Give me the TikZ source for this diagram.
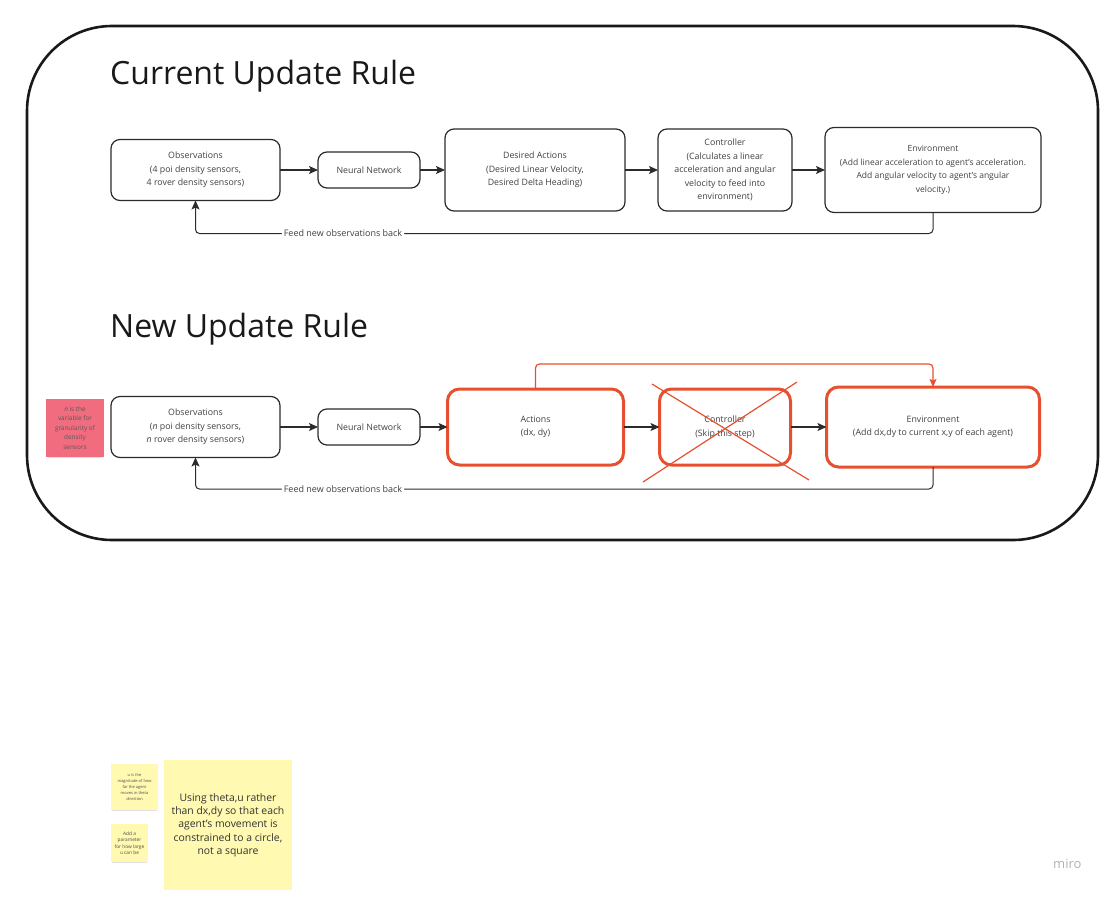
\documentclass[tikz,border=0pt]{standalone}
\usepackage{fontspec}
\setmainfont{Open Sans}
\usetikzlibrary{positioning,arrows.meta,shadows}

\definecolor{miroRed}{HTML}{E6502E}
\definecolor{stickyPink}{HTML}{F16C7F}
\definecolor{stickyYellow}{HTML}{FFF9B1}
\definecolor{lineGray}{HTML}{2B2B2B}

\tikzset{
  stage/.style = {draw = lineGray, rectangle, rounded corners = 9pt, line width = 1.2pt, align = center,
                  inner sep = 0pt, outer sep = 0pt, font = \fontsize{8.8}{13.5}\selectfont, text = black!75},
  skipped/.style = {stage, draw = miroRed, line width = 3pt, rounded corners = 12pt},
  flow/.style = {draw = lineGray, line width = 1.3pt, -{Stealth[length = 9pt, width = 8pt, inset = 2pt]}},
  loopback/.style = {flow, line width = 1pt, rounded corners = 4pt},
  fblabel/.style = {fill = white, inner sep = 2pt, font = \fontsize{9}{11}\selectfont, text = black!75},
  sticky/.style = {rectangle, inner sep = 0pt, align = center, text = black!70,
                   drop shadow = {shadow xshift = 0pt, shadow yshift = -2.5pt, shadow scale = 0.94, opacity = 0.12, fill = black}},
  heading/.style = {anchor = west, inner sep = 0pt, font = \fontsize{32}{36}\selectfont, text = black!90}
}

\begin{document}
\begin{tikzpicture}[x = 1pt, y = -1pt]
    \useasboundingbox (0,0) rectangle (1115,896);

    % frame round both rules
    \draw [line width = 2.6pt, rounded corners = 85pt, draw = black!90] (27,26) rectangle (1098,540);

    % current update rule
    \node [heading] (title1) at (110,76) {Current Update Rule};

    \node [stage, minimum width = 169pt, minimum height = 61pt] (obs1) at (195.5,170) {Observations\\(4 poi density sensors,\\4 rover density sensors)};
    \node [stage, minimum width = 102pt, minimum height = 36pt, right = 38pt of obs1] (nn1) {Neural Network};
    \node [stage, minimum width = 180pt, minimum height = 82pt, right = 25pt of nn1] (act1) {Desired Actions\\(Desired Linear Velocity,\\Desired Delta Heading)};
    \node [stage, minimum width = 134pt, minimum height = 82pt, right = 33pt of act1] (ctrl1) {Controller\\(Calculates a linear\\acceleration and angular\\velocity to feed into\\environment)};
    \node [stage, minimum width = 216pt, minimum height = 85pt, right = 33pt of ctrl1, font = \fontsize{8.5}{13.5}\selectfont] (env1) {Environment\\(Add linear acceleration to agent's acceleration.\\Add angular velocity to agent's angular\\velocity.)};

    \draw [flow] (obs1) -- (nn1);
    \draw [flow] (nn1) -- (act1);
    \draw [flow] (act1) -- (ctrl1);
    \draw [flow] (ctrl1) -- (env1);
    \draw [loopback] (env1.south) -- ++(0,21) -| node [fblabel, pos = 0.4] (fb1) {Feed new observations back} (obs1.south);

    % new update rule
    \node [heading] (title2) at (110,329) {New Update Rule};

    \node [sticky, fill = stickyPink, minimum width = 58pt, minimum height = 58pt, font = \fontsize{6.4}{9.5}\selectfont, text = black!65] (noteN) at (75,428) {\textit{n} is the\\variable for\\granularity of\\density\\sensors};

    \node [stage, minimum width = 169pt, minimum height = 61pt] (obs2) at (195.5,427) {Observations\\(\textit{n} poi density sensors,\\\textit{n} rover density sensors)};
    \node [stage, minimum width = 102pt, minimum height = 36pt, right = 38pt of obs2] (nn2) {Neural Network};
    \node [skipped, minimum width = 176pt, minimum height = 76pt, right = 27.5pt of nn2] (act2) {Actions\\(dx, dy)};
    \node [skipped, minimum width = 131pt, minimum height = 76pt, right = 36pt of act2] (ctrl2) {Controller\\(Skip this step)};
    \node [skipped, minimum width = 213pt, minimum height = 80pt, right = 36pt of ctrl2] (env2) {Environment\\(Add dx,dy to current x,y of each agent)};

    \draw [miroRed, line width = 1.2pt] ([shift = {(-73,-43)}]ctrl2.center) -- ([shift = {(84,53)}]ctrl2.center);
    \draw [miroRed, line width = 1.2pt] ([shift = {(72,-45)}]ctrl2.center) -- ([shift = {(-82,55)}]ctrl2.center);

    \draw [flow] (obs2) -- (nn2);
    \draw [flow] (nn2) -- (act2);
    \draw [flow] (act2) -- (ctrl2);
    \draw [flow] (ctrl2) -- (env2);
    \draw [miroRed, line width = 1.2pt, rounded corners = 4pt, -{Stealth[length = 8pt, width = 7pt, inset = 1.5pt]}] (act2.north) -- ++(0,-25) -| (env2.north);
    \draw [loopback] (env2.south) -- ++(0,22) -| node [fblabel, pos = 0.4] (fb2) {Feed new observations back} (obs2.south);

    % sticky notes
    \node [sticky, fill = stickyYellow, minimum width = 47pt, minimum height = 46pt, font = \fontsize{4}{6}\selectfont] (noteU) at (134.5,787) {u is the\\magnitude of how\\far the agent\\moves in theta\\direction};
    \node [sticky, fill = stickyYellow, minimum width = 37pt, minimum height = 38pt, font = \fontsize{4.8}{6.5}\selectfont] (noteLimit) at (129.5,843) {Add a\\parameter\\for how large\\u can be};
    \node [sticky, fill = stickyYellow, minimum width = 128pt, minimum height = 130pt, font = \fontsize{10.4}{13.3}\selectfont, text = black!80] (noteTheta) at (228,825) {Using theta,u rather\\than dx,dy so that each\\agent's movement is\\constrained to a circle,\\not a square};

    \node [anchor = west, inner sep = 0pt, text = black!30, font = \fontsize{13}{13}\selectfont] (brand) at (1053,864) {miro};
\end{tikzpicture}
\end{document}
